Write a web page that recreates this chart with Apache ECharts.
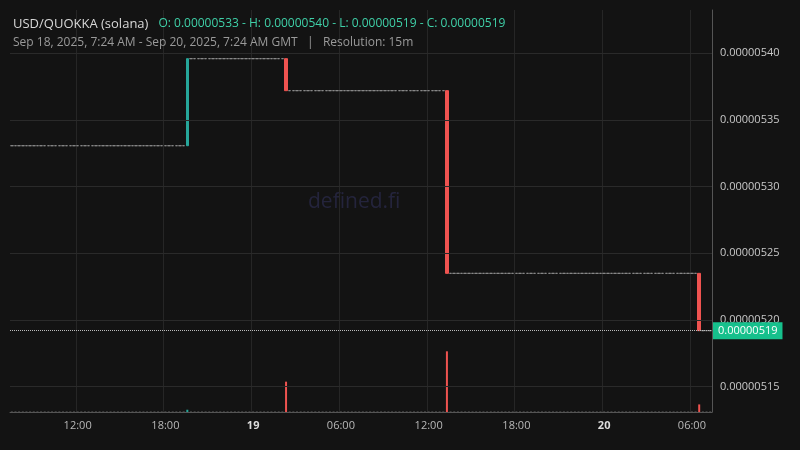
<!DOCTYPE html>
<html><head><meta charset="utf-8">
<script src="https://cdn.jsdelivr.net/npm/echarts@6/dist/echarts.min.js"></script>
<style>html,body{margin:0;background:#131313}#c{width:800px;height:450px}</style>
</head><body><div id="c"></div>
<script>
// price in units of 1e-8
const candleCount = 192;               // 15m candles from Sep 18 07:30
const changeIndex = [48, 75, 119, 188]; // candles where price moved
const levels = [533.07, 539.6, 537.2, 523.5, 519.2]; // price levels (x1e-8)
const volSpikeIndex = [48, 75, 119, 188];
const volSpikeValue = [3, 40, 80, 10];
const baseVolume = 0.8;
const yTicks = [515, 520, 525, 530, 535, 540];

const cats = [], candles = [], vols = [];
let t = new Date(2025, 8, 18, 7, 30);
let lv = 0;
for (let i = 0; i < candleCount; i++) {
  cats.push(t.getTime());
  const ci = changeIndex.indexOf(i);
  if (ci >= 0) {
    const o = levels[ci], c = levels[ci + 1];
    candles.push([o, c, Math.min(o, c), Math.max(o, c)]);
    lv = ci + 1;
  } else {
    const v = levels[lv];
    candles.push([v, v, v, v]);
  }
  const vi = volSpikeIndex.indexOf(i);
  const up = candles[i][1] > candles[i][0];
  vols.push({value: vi >= 0 ? volSpikeValue[vi] : baseVolume,
    itemStyle: {color: vi >= 0 ? (up ? '#26a69a' : '#ef5350') : '#555'}});
  t = new Date(t.getTime() + 15 * 60000);
}
const pad = n => String(n).padStart(2, '0');
function showTick(idx) {
  const d = new Date(cats[idx]);
  return d.getMinutes() === 0 && d.getHours() % 6 === 0;
}
const chart = echarts.init(document.getElementById('c'));
chart.setOption({
  backgroundColor: '#131313',
  animation: false,
  title: [{
    left: 8, top: 10,
    text: '{a|USD/QUOKKA (solana)}  {b|O: 0.00000533 - H: 0.00000540 - L: 0.00000519 - C: 0.00000519}',
    textStyle: {fontWeight: 'normal', rich: {
      a: {color: '#d8d8d8', fontSize: 13, fontWeight: 'normal', fontFamily: 'Open Sans'},
      b: {color: '#3fd0a8', fontSize: 12, fontWeight: 'normal', fontFamily: 'Open Sans'}}}
  }, {
    left: 8, top: 32,
    text: 'Sep 18, 2025, 7:24 AM - Sep 20, 2025, 7:24 AM GMT   |   Resolution: 15m',
    textStyle: {color: '#9a9a9a', fontSize: 12, fontWeight: 'normal', fontFamily: 'Open Sans'}
  }],
  graphic: [{type: 'text', left: 308, top: 192, z: 0,
    style: {text: 'defined.fi', fill: '#24243c', fontSize: 21, fontFamily: 'Open Sans'}}],
  grid: [
    {left: 10, right: 88, top: 10, bottom: 38},
    {left: 10, right: 88, top: 10, bottom: 38}
  ],
  xAxis: [
    {type: 'category', gridIndex: 0, data: cats, show: false, boundaryGap: true},
    {type: 'category', gridIndex: 1, data: cats, boundaryGap: true,
      axisLine: {lineStyle: {color: '#555'}}, axisTick: {show: false},
      splitLine: {show: true, interval: showTick, lineStyle: {color: '#262626'}},
      axisLabel: {interval: showTick, color: '#b8b8b8', fontSize: 11, fontFamily: 'Open Sans',
        formatter: v => { const d = new Date(+v);
          return d.getHours() === 0 ? '{d|' + d.getDate() + '}' : pad(d.getHours()) + ':00'; },
        rich: {d: {fontWeight: 'bold', color: '#ddd', fontSize: 11}}}}
  ],
  yAxis: [
    {type: 'value', gridIndex: 0, position: 'right', min: 513.1, max: 543.25,
      axisLine: {show: true, lineStyle: {color: '#555'}},
      axisTick: {show: false},
      splitLine: {show: false},
      axisLabel: {customValues: yTicks, color: '#c8c8c8', fontSize: 11, fontFamily: 'Open Sans', margin: 8,
        formatter: v => (v / 1e8).toFixed(8)}},
    {type: 'value', gridIndex: 1, max: 530, show: false, splitLine: {show: false}}
  ],
  series: [
    {type: 'bar', xAxisIndex: 1, yAxisIndex: 1, data: vols, barWidth: 2},
    {type: 'line', xAxisIndex: 0, yAxisIndex: 0, data: [], z: 0,
      markLine: {symbol: 'none', silent: true, label: {show: false},
        lineStyle: {color: '#2a2a2a', type: 'solid', width: 1},
        data: yTicks.map(v => ({yAxis: v}))}},
    {type: 'candlestick', xAxisIndex: 0, yAxisIndex: 0, data: candles, barWidth: 3,
      itemStyle: {color: '#26a69a', color0: '#ef5350', borderColor: '#26a69a', borderColor0: '#ef5350',
        borderColorDoji: '#8a8a8a', borderWidth: 1},
      markLine: {symbol: 'none', silent: true,
        lineStyle: {color: '#bbb', type: 'dotted', width: 1},
        label: {position: 'end', formatter: '0.00000519', color: '#fff', backgroundColor: '#16c08c',
          padding: [3, 5], fontSize: 11, fontFamily: 'Open Sans', distance: 1},
        data: [{yAxis: 519.2}]}}
  ]
});
</script></body></html>
